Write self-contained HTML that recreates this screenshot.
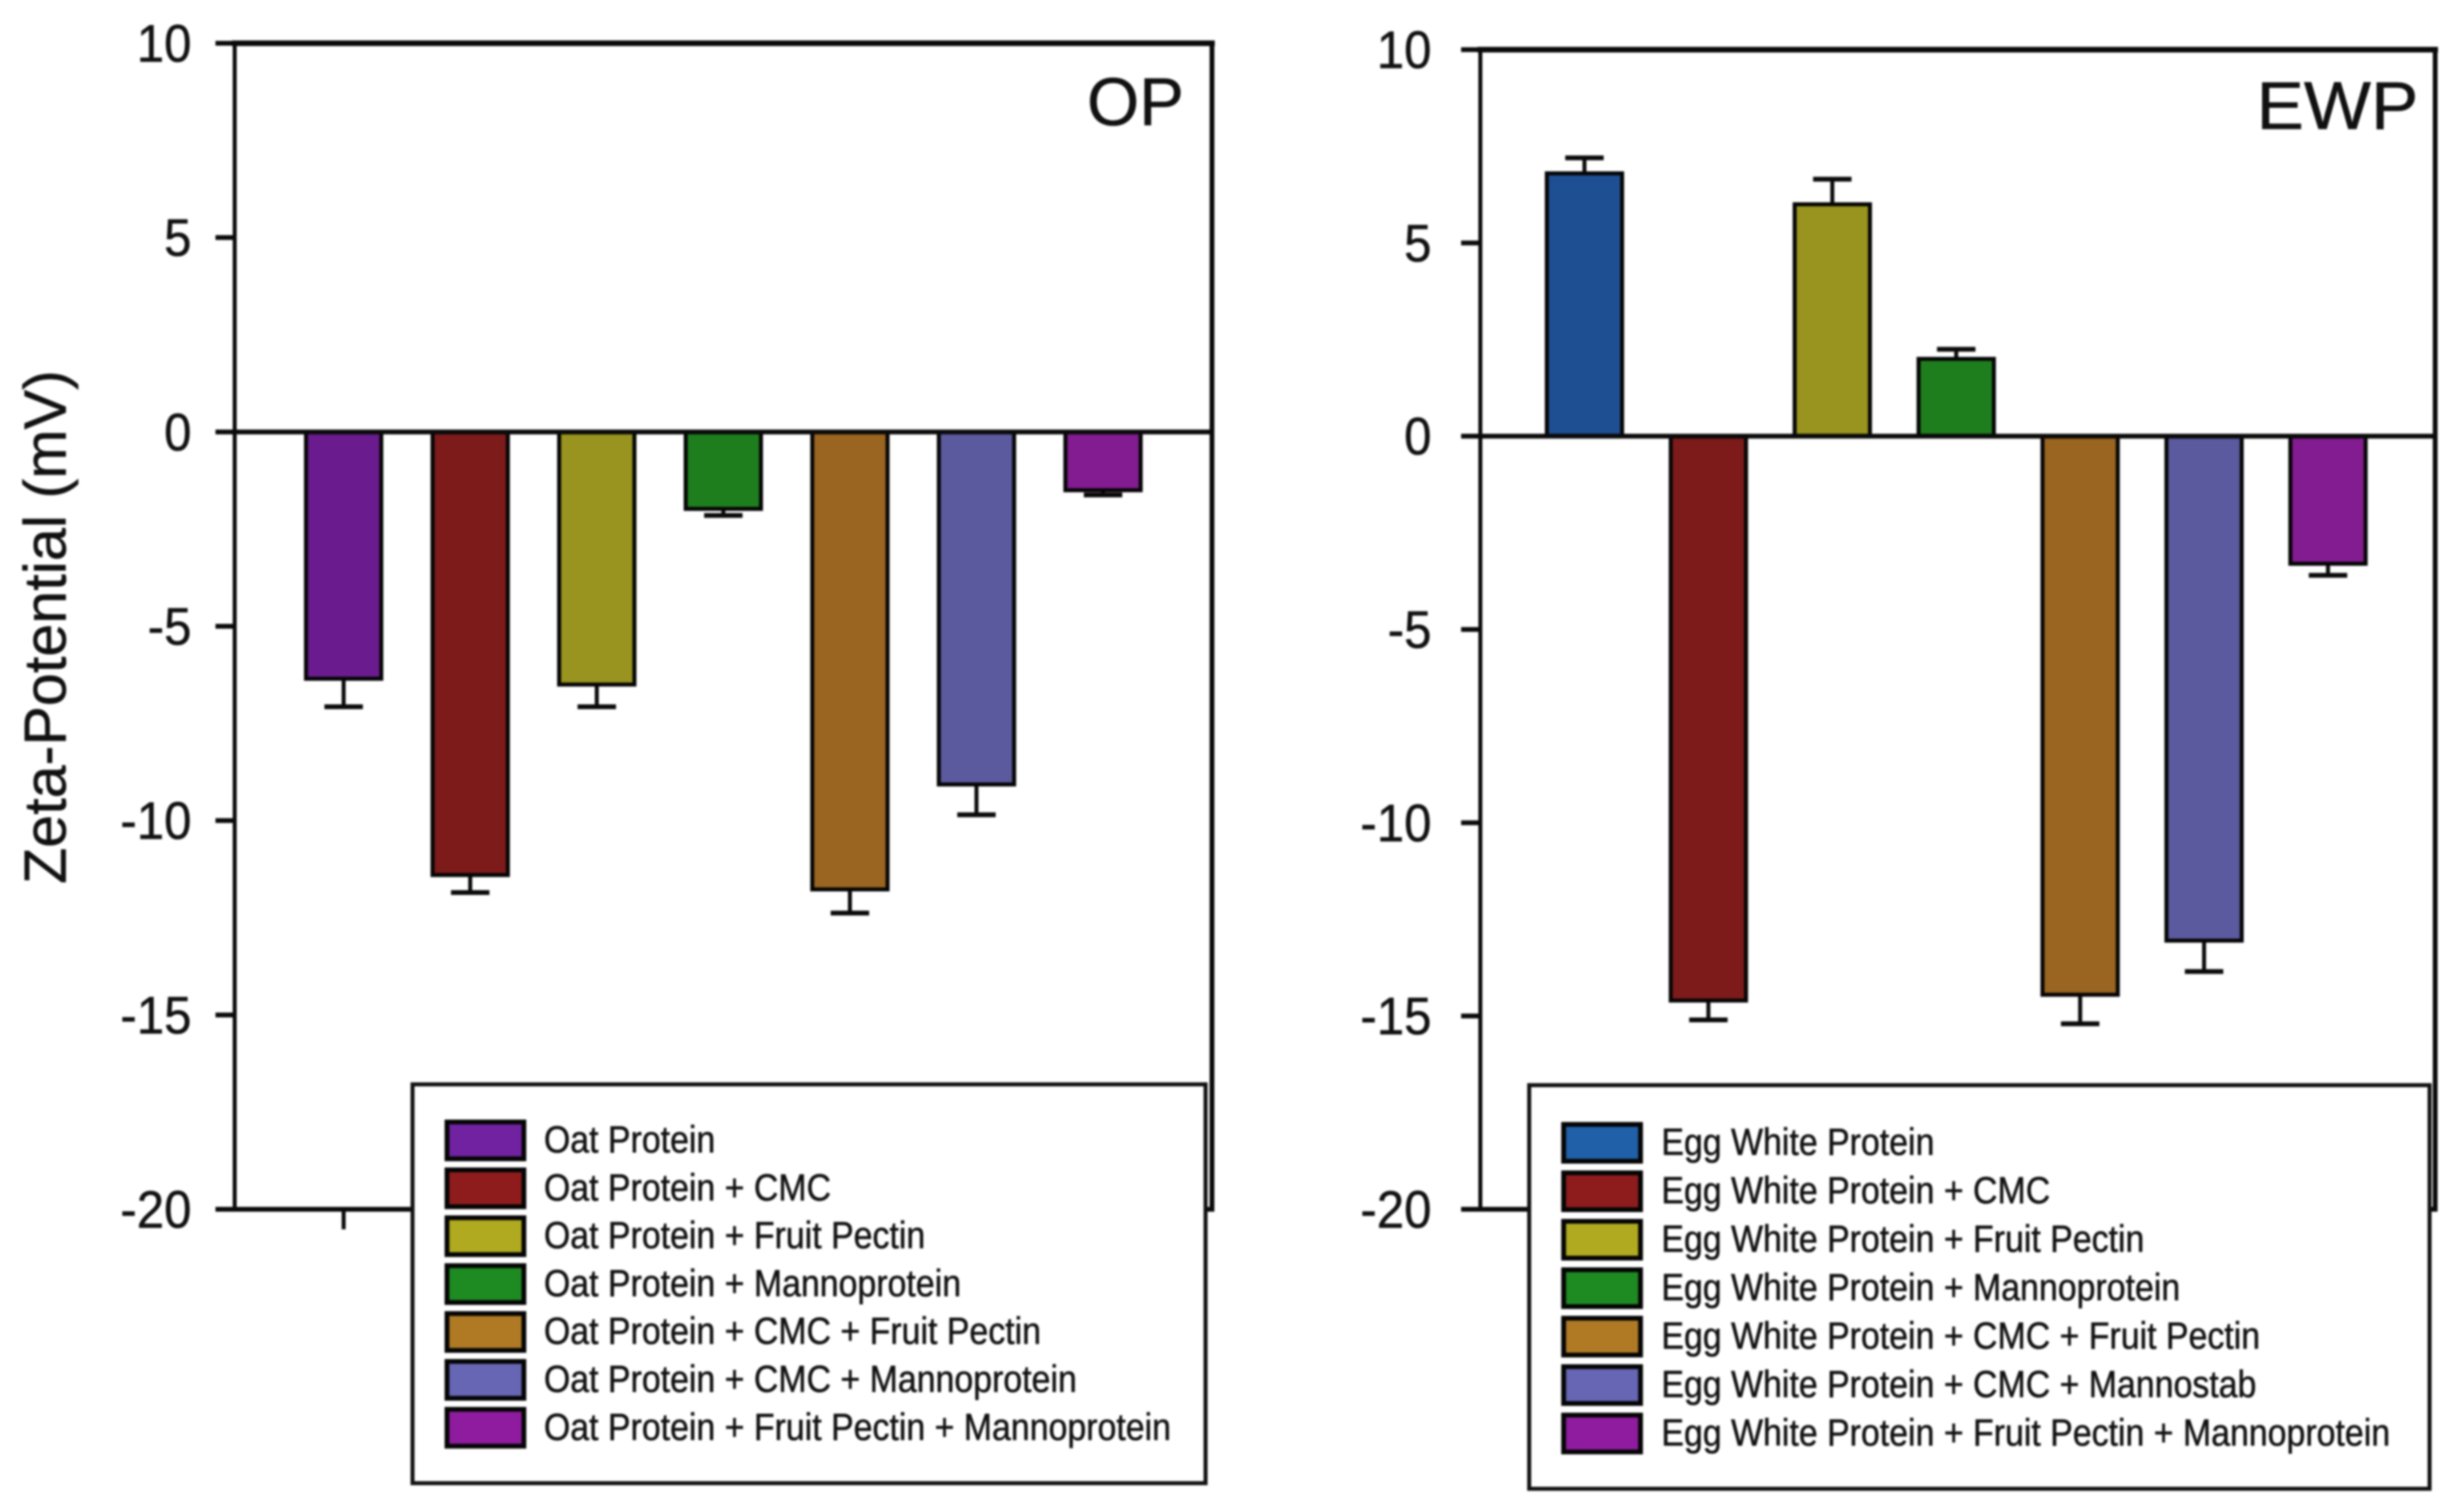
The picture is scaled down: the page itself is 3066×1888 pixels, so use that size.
<!DOCTYPE html>
<html lang="en">
<head>
<meta charset="utf-8">
<title>Zeta-Potential of Oat Protein and Egg White Protein</title>
<style>
html,body{margin:0;padding:0;background:#fff;width:3066px;height:1888px;overflow:hidden}
svg{display:block;filter:blur(1.3px)}
text{font-family:"Liberation Sans",Arial,sans-serif;fill:#111;stroke:#111;stroke-width:.6px}
</style>
</head>
<body>
<svg id="chart" xmlns="http://www.w3.org/2000/svg" width="3066" height="1888" viewBox="0 0 3066 1888"></svg>
<script>
// ---- data ----
const tickValues = [10, 5, 0, -5, -10, -15, -20];
const tickLabels = ['10', '5', '0', '-5', '-10', '-15', '-20'];

const opLabels = ['Oat Protein', 'Oat Protein + CMC', 'Oat Protein + Fruit Pectin', 'Oat Protein + Mannoprotein', 'Oat Protein + CMC + Fruit Pectin', 'Oat Protein + CMC + Mannoprotein', 'Oat Protein + Fruit Pectin + Mannoprotein'];
const opValues = [-6.35, -11.4, -6.5, -1.98, -11.77, -9.07, -1.5];
const opErrors = [0.72, 0.45, 0.57, 0.17, 0.61, 0.78, 0.12];
const opColors = ['#6a1c8e', '#7d1a1a', '#98941f', '#1e7e1e', '#9a6520', '#5b5a9e', '#821c90'];
const opSwatches = ['#7022a0', '#8f1c1c', '#b0aa20', '#1e8a22', '#b07a25', '#6666b5', '#8f1c9e'];

const ewpLabels = ['Egg White Protein', 'Egg White Protein + CMC', 'Egg White Protein + Fruit Pectin', 'Egg White Protein + Mannoprotein', 'Egg White Protein + CMC + Fruit Pectin', 'Egg White Protein + CMC + Mannostab', 'Egg White Protein + Fruit Pectin + Mannoprotein'];
const ewpValues = [6.8, -14.6, 6.0, 2.0, -14.45, -13.05, -3.3];
const ewpErrors = [0.4, 0.5, 0.65, 0.25, 0.75, 0.8, 0.3];
const ewpColors = ['#1f4f93', '#7d1a1a', '#98941f', '#1e7e1e', '#9a6520', '#5b5a9e', '#821c90'];
const ewpSwatches = ['#2060a8', '#8f1c1c', '#b0aa20', '#1e8a22', '#b07a25', '#6666b5', '#8f1c9e'];

// ---- drawing ----
const NS = 'http://www.w3.org/2000/svg';
const root = document.getElementById('chart');

function make(tag, attrs, parent) {
  const el = document.createElementNS(NS, tag);
  for (const k in attrs) el.setAttribute(k, attrs[k]);
  parent.appendChild(el);
  return el;
}

function drawPanel(cfg) {
  const group = make('g', {}, root);
  
  

  const yScale = v => cfg.top + (10 - v) * (cfg.bottom - cfg.top) / 30;
  const xScale = i => cfg.firstCenter + i * cfg.step;
  const zero = yScale(0);

  // bars
  cfg.values.forEach((v, i) => {
    const cx = xScale(i);
    const y = yScale(v);
    const tip = yScale(v + (v < 0 ? -cfg.errors[i] : cfg.errors[i]));

    const stem = make('line', {x1: cx, x2: cx, y1: y, y2: tip, stroke: '#0a0a0a', 'stroke-width': 5}, group);
    
    

    const cap = make('line', {x1: cx - 24, x2: cx + 24, y1: tip, y2: tip, stroke: '#0a0a0a', 'stroke-width': 6}, group);
    
    

    const bar = make('rect', {x: cx - 47, y: Math.min(y, zero), width: 94, height: Math.abs(y - zero), fill: cfg.colors[i], stroke: '#050505', 'stroke-width': 5}, group);
    
    
  });

  // axes frame
  const frame = [
    ['top-spine', cfg.left, cfg.top, cfg.right, cfg.top, 7],
    ['left-spine', cfg.left, cfg.top, cfg.left, cfg.bottom, 5],
    ['right-spine', cfg.right, cfg.top, cfg.right, cfg.bottom, 6],
    ['bottom-spine', cfg.left, cfg.bottom, cfg.right, cfg.bottom, 6],
    ['zero-line', cfg.left, zero, cfg.right, zero, 6]
  ];
  frame.forEach(f => {
    const line = make('line', {x1: f[1], y1: f[2], x2: f[3], y2: f[4], stroke: '#0a0a0a', 'stroke-width': f[5], 'stroke-linecap': 'square'}, group);
    
    
  });

  // y ticks
  tickValues.forEach((v, i) => {
    const y = yScale(v);
    const tick = make('line', {x1: cfg.left - 24, x2: cfg.left, y1: y, y2: y, stroke: '#0a0a0a', 'stroke-width': 6}, group);
    
    

    const label = make('text', {transform: 'translate(' + cfg.labelRight + ',' + (y + 23) + ') scale(.93,1)', 'text-anchor': 'end', 'font-size': 66}, group);
    label.textContent = tickLabels[i];
    
    
  });

  // x tick
  const xTick = make('line', {x1: xScale(0), x2: xScale(0), y1: cfg.bottom, y2: cfg.bottom + 25, stroke: '#0a0a0a', 'stroke-width': 5}, group);
  
  

  // panel title
  const title = make('text', {x: cfg.titleX, y: cfg.titleY, 'text-anchor': 'end', 'font-size': 84, textLength: cfg.titleWidth, lengthAdjust: 'spacingAndGlyphs'}, group);
  title.textContent = cfg.title;
  
  

  // legend
  const lg = make('g', {}, group);
  
  

  const box = make('rect', {x: cfg.legendX, y: cfg.legendY, width: cfg.legendW, height: cfg.legendH, fill: '#fff', stroke: '#111', 'stroke-width': 5}, lg);
  
  

  cfg.labels.forEach((name, i) => {
    const sy = cfg.swatchY + i * cfg.rowStep;
    const sw = make('rect', {x: cfg.swatchX, y: sy, width: 96, height: 46, fill: cfg.swatches[i], stroke: '#050505', 'stroke-width': 6}, lg);
    
    

    const t = make('text', {transform: 'translate(' + cfg.textX + ',' + (sy + 38) + ') scale(.9,1)', 'font-size': 47}, lg);
    t.textContent = name;
    
    
  });
}

drawPanel({
  key: 'op', title: 'OP', labels: opLabels, values: opValues, errors: opErrors, colors: opColors, swatches: opSwatches,
  left: 293, right: 1513, top: 54, bottom: 1510,
  firstCenter: 429, step: 158, labelRight: 239,
  titleX: 1478, titleY: 156, titleWidth: 121,
  legendX: 515, legendY: 1354, legendW: 990, legendH: 498,
  swatchX: 558, swatchY: 1401, rowStep: 59.8, textX: 679
});

drawPanel({
  key: 'ewp', title: 'EWP', labels: ewpLabels, values: ewpValues, errors: ewpErrors, colors: ewpColors, swatches: ewpSwatches,
  left: 1848, right: 3040, top: 62, bottom: 1510,
  firstCenter: 1978, step: 154.7, labelRight: 1787,
  titleX: 3019, titleY: 161, titleWidth: 202,
  legendX: 1909, legendY: 1355, legendW: 1124, legendH: 504,
  swatchX: 1952, swatchY: 1404, rowStep: 60.5, textX: 2074
});

const yTitle = make('text', {transform: 'translate(82,783) rotate(-90)', 'text-anchor': 'middle', 'font-size': 74}, root);
yTitle.textContent = 'Zeta-Potential (mV)';


</script>
</body>
</html>
